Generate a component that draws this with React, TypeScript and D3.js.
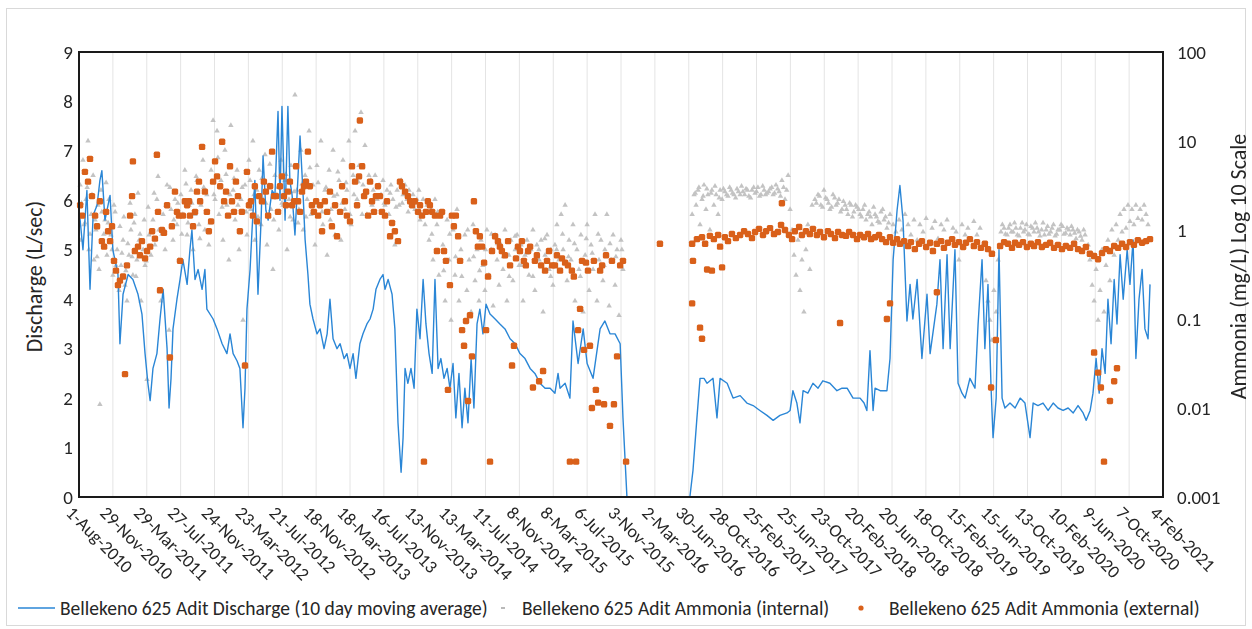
import * as d3 from 'd3';

// x tick labels (every 120 days)
const tickLabels = [
  '1-Aug-2010', '29-Nov-2010', '29-Mar-2011', '27-Jul-2011', '24-Nov-2011', '23-Mar-2012',
  '21-Jul-2012', '18-Nov-2012', '18-Mar-2013', '16-Jul-2013', '13-Nov-2013', '13-Mar-2014',
  '11-Jul-2014', '8-Nov-2014', '8-Mar-2015', '6-Jul-2015', '3-Nov-2015', '2-Mar-2016',
  '30-Jun-2016', '28-Oct-2016', '25-Feb-2017', '25-Jun-2017', '23-Oct-2017', '20-Feb-2018',
  '20-Jun-2018', '18-Oct-2018', '15-Feb-2019', '15-Jun-2019', '13-Oct-2019', '10-Feb-2020',
  '9-Jun-2020', '7-Oct-2020', '4-Feb-2021',
];
const leftTicks = [0, 1, 2, 3, 4, 5, 6, 7, 8, 9];
const rightTicks = [0.001, 0.01, 0.1, 1, 10, 100];

// [days since 1-Aug-2010, L/sec]
const discharge: [number, number][] = [
  [0, 5.8], [4, 5.6], [14, 5.0], [28, 6.2], [39, 4.2], [50, 5.7], [64, 5.9], [74, 6.4], [81, 6.6], [92, 5.6],
  [110, 6.1], [120, 5.0], [138, 4.5], [145, 3.1], [156, 4.1], [174, 4.5], [191, 4.4], [209, 4.1], [223, 3.7],
  [234, 2.9], [244, 2.3], [252, 1.95], [262, 2.6], [276, 2.9], [287, 3.6], [298, 4.2], [312, 3.0], [319, 1.8],
  [326, 2.4], [333, 3.4], [347, 4.0], [358, 4.4], [368, 4.8], [383, 4.3], [393, 5.0], [400, 5.4], [411, 4.4],
  [422, 4.6], [436, 4.2], [446, 4.6], [453, 3.8], [475, 3.6], [489, 3.4], [507, 3.1], [524, 2.9], [535, 3.3],
  [546, 2.9], [560, 2.75], [570, 2.6], [581, 1.4], [588, 2.2], [595, 3.8], [606, 4.6], [613, 5.4], [623, 6.4],
  [634, 4.1], [645, 5.6], [652, 6.9], [662, 5.8], [670, 5.6], [684, 6.2], [694, 6.1], [705, 7.8], [712, 6.0],
  [719, 7.9], [730, 5.6], [740, 7.9], [747, 6.4], [755, 6.1], [765, 5.3], [776, 6.5], [783, 7.3], [794, 6.1],
  [801, 5.2], [811, 4.5], [818, 3.9], [829, 3.6], [843, 3.3], [854, 3.4], [868, 3.0], [879, 3.3], [889, 4.0],
  [900, 3.2], [914, 3.0], [925, 3.1], [939, 2.8], [949, 2.9], [960, 2.6], [971, 2.9], [981, 2.4], [995, 3.1],
  [1006, 3.3], [1020, 3.5], [1031, 3.6], [1042, 3.8], [1052, 4.2], [1066, 4.4], [1077, 4.5], [1084, 4.2],
  [1095, 4.4], [1109, 4.1], [1119, 3.4], [1130, 1.5], [1141, 0.5], [1148, 1.2], [1155, 2.6], [1165, 2.3],
  [1176, 2.6], [1187, 2.2], [1197, 3.8], [1208, 3.2], [1219, 4.4], [1229, 3.5], [1240, 2.9], [1251, 2.5],
  [1261, 4.4], [1272, 2.6], [1282, 2.8], [1293, 2.4], [1304, 2.6], [1314, 2.2], [1325, 2.7], [1335, 1.6],
  [1346, 2.5], [1357, 1.4], [1367, 2.2], [1378, 1.5], [1389, 2.8], [1399, 1.8], [1410, 3.5], [1420, 3.8],
  [1431, 3.3], [1442, 3.9], [1456, 3.7], [1474, 3.6], [1491, 3.5], [1509, 3.4], [1527, 3.2], [1545, 3.1],
  [1562, 2.9], [1580, 2.8], [1598, 2.6], [1615, 2.5], [1633, 2.3], [1651, 2.2], [1669, 2.2], [1686, 2.1],
  [1697, 2.5], [1704, 2.2], [1722, 2.3], [1739, 2.0], [1750, 3.56], [1768, 2.7], [1786, 3.4], [1800, 2.7],
  [1821, 2.4], [1846, 3.4], [1863, 3.56], [1881, 3.3], [1899, 3.3], [1917, 3.1], [1927, 1.6], [1941, 0],
  [2164, 0], [2175, 0.54], [2189, 1.6], [2200, 2.4], [2214, 2.4], [2225, 2.3], [2246, 2.4], [2260, 1.6],
  [2271, 2.4], [2296, 2.3], [2317, 2.0], [2342, 2.05], [2366, 1.9], [2388, 1.85], [2412, 1.75], [2437, 1.65],
  [2459, 1.55], [2483, 1.65], [2508, 1.7], [2519, 1.75], [2529, 2.15], [2543, 1.9], [2554, 1.5], [2565, 2.15],
  [2582, 2.1], [2600, 2.3], [2618, 2.2], [2635, 2.35], [2660, 2.3], [2685, 2.15], [2703, 2.2], [2721, 2.2],
  [2742, 2.0], [2767, 2.0], [2781, 1.9], [2791, 1.75], [2802, 2.96], [2813, 1.75], [2820, 2.2], [2838, 2.15],
  [2862, 2.15], [2873, 2.8], [2884, 4.8], [2898, 5.8], [2908, 6.3], [2919, 5.6], [2933, 3.56], [2944, 4.3],
  [2954, 3.6], [2969, 4.4], [2986, 2.8], [3004, 4.1], [3015, 2.9], [3039, 3.9], [3050, 4.8], [3061, 3.0],
  [3075, 4.9], [3086, 3.0], [3103, 5.0], [3114, 2.3], [3128, 2.1], [3139, 2.0], [3156, 2.4], [3174, 2.2],
  [3185, 3.5], [3199, 4.8], [3209, 3.0], [3220, 4.3], [3231, 2.2], [3238, 1.2], [3249, 2.0], [3259, 5.0],
  [3270, 2.0], [3280, 1.8], [3298, 1.9], [3316, 1.8], [3334, 2.0], [3351, 1.9], [3369, 1.2], [3380, 1.9],
  [3397, 1.85], [3415, 1.9], [3433, 1.75], [3451, 1.9], [3468, 1.8], [3486, 1.75], [3504, 1.8], [3522, 1.7],
  [3539, 1.85], [3557, 1.7], [3568, 1.55], [3582, 1.75], [3592, 2.1], [3603, 2.8], [3614, 2.1], [3624, 3.0],
  [3635, 2.5], [3645, 4.0], [3656, 3.1], [3667, 4.4], [3677, 3.5], [3688, 4.9], [3699, 4.0], [3713, 5.0],
  [3723, 4.3], [3734, 5.2], [3744, 2.8], [3755, 4.0], [3766, 4.6], [3776, 3.4], [3787, 3.2], [3794, 4.3],
];

// [days since 1-Aug-2010, mg/L] internal ammonia
const ammoniaInternal: [number, number][] = [
  [4, 3.2], [7, 0.77], [14, 6.1], [18, 1.15], [25, 2.2], [32, 10], [35, 0.6], [43, 1.5], [50, 4.1], [53, 0.46],
  [60, 1.0], [67, 1.9], [71, 0.36], [74, 0.011], [78, 2.8], [85, 0.68], [92, 1.3], [99, 0.52], [106, 2.2],
  [113, 0.88], [120, 0.31], [128, 1.6], [135, 0.6], [142, 0.21], [149, 0.4], [156, 0.77], [163, 0.24],
  [170, 0.16], [177, 0.52], [184, 1.0], [191, 0.31], [198, 1.5], [205, 0.46], [213, 0.77], [220, 0.16],
  [227, 0.6], [234, 0.4], [241, 0.021], [248, 0.88], [255, 0.52],
  [262, 1.3], [269, 0.68], [276, 2.2], [283, 1.0], [290, 0.16], [298, 1.5], [305, 0.6], [312, 3.2], [319, 0.075],
  [326, 1.7], [333, 0.77], [340, 2.2], [347, 1.15], [354, 0.46], [361, 2.5], [368, 1.5], [375, 4.7], [383, 0.88],
  [390, 1.9], [397, 2.8], [404, 0.6], [411, 1.5], [418, 3.6], [425, 1.15], [432, 1.9], [439, 6.1], [446, 1.0],
  [453, 2.5], [460, 0.68],
  [468, 4.7], [475, 17], [482, 2.2], [489, 13], [496, 1.5], [503, 3.6], [510, 0.77], [517, 7.9], [524, 1.9],
  [531, 0.46], [538, 15], [546, 2.8], [553, 1.3], [560, 4.7], [567, 0.6], [574, 2.2], [581, 0.097], [588, 3.2],
  [595, 0.88], [602, 6.1],
  [609, 1.7], [616, 10], [623, 0.77], [630, 2.8], [638, 4.7], [645, 1.15], [652, 2.2], [659, 7.0], [666, 0.68],
  [673, 3.2], [680, 1.7], [687, 0.36], [694, 4.1], [701, 2.5], [708, 1.0], [716, 6.1], [723, 1.9], [730, 3.6],
  [737, 0.6], [744, 2.2], [751, 5.3], [758, 1.3], [765, 33], [772, 2.8], [779, 1.7],
  [786, 7.9], [794, 1.0], [801, 4.1], [808, 2.2], [815, 13], [822, 1.5], [829, 3.2], [836, 0.68], [843, 5.3],
  [850, 1.9], [857, 10], [864, 1.15], [871, 2.8], [879, 0.52], [886, 4.7], [893, 1.7], [900, 7.9], [907, 0.88],
  [914, 2.5], [921, 3.6], [928, 0.77], [935, 6.1], [942, 1.7], [949, 2.8], [956, 10], [964, 1.15], [971, 4.1],
  [978, 13], [985, 2.2], [992, 5.3], [999, 21], [1006, 3.2], [1013, 8.9], [1020, 1.5], [1027, 4.1],
  [1034, 3.6], [1042, 2.8], [1049, 4.1], [1056, 2.2], [1063, 3.2], [1070, 2.5], [1077, 3.6], [1084, 1.9],
  [1091, 2.8], [1098, 1.5], [1105, 3.2], [1112, 2.2], [1119, 0.68], [1127, 2.8], [1134, 1.9], [1141, 3.6],
  [1148, 2.5], [1155, 3.2], [1162, 2.2], [1169, 2.8], [1176, 1.9], [1183, 2.5], [1190, 1.7], [1197, 2.2],
  [1204, 2.8], [1212, 1.5],
  [1219, 2.2], [1226, 1.15], [1233, 1.9], [1240, 0.77], [1247, 1.7], [1254, 0.46], [1261, 2.2], [1268, 1.15],
  [1275, 0.31], [1282, 1.5], [1289, 0.68], [1297, 0.16], [1304, 1.3], [1311, 0.46], [1318, 0.097], [1325, 1.0],
  [1332, 0.31], [1339, 1.7], [1346, 0.16], [1353, 0.6], [1360, 0.075], [1367, 0.88], [1374, 0.21], [1382, 0.46],
  [1389, 0.12], [1396, 1.15], [1403, 0.27], [1410, 0.6], [1417, 0.16],
  [1424, 0.77], [1431, 0.4], [1438, 0.21], [1445, 1.0], [1452, 0.31], [1460, 0.6], [1467, 0.14], [1474, 0.88],
  [1481, 0.46], [1488, 0.24], [1495, 0.68], [1502, 0.36], [1509, 1.0], [1516, 0.16], [1523, 0.52], [1530, 0.77],
  [1537, 0.27], [1545, 0.6], [1552, 0.88], [1559, 0.4], [1566, 0.68], [1573, 0.16], [1580, 0.52], [1587, 0.77],
  [1594, 0.31], [1601, 0.6], [1608, 1.0], [1615, 0.21], [1622, 0.68], [1630, 0.46], [1637, 0.77], [1644, 0.12],
  [1651, 0.52], [1658, 0.88], [1665, 0.36], [1672, 0.6], [1679, 0.24], [1686, 0.68], [1693, 1.15], [1700, 0.46],
  [1708, 1.5], [1715, 0.6], [1722, 1.9], [1729, 0.27], [1736, 0.77], [1743, 0.46], [1750, 1.15], [1757, 0.16],
  [1764, 0.6], [1771, 0.36], [1778, 0.88], [1786, 0.12], [1793, 0.52], [1800, 1.15], [1807, 0.21], [1814, 0.68],
  [1821, 0.36], [1828, 1.5], [1835, 0.16], [1842, 0.46], [1849, 0.77], [1856, 0.27], [1863, 0.6], [1870, 1.5],
  [1878, 0.14], [1885, 0.46], [1892, 0.88], [1899, 0.24], [1906, 0.6], [1913, 0.11], [1920, 0.77], [1927, 0.36],
  [2172, 1.5], [2179, 2.5], [2186, 1.9], [2193, 2.8], [2200, 1.15], [2207, 2.2], [2214, 3.2], [2221, 1.7],
  [2228, 2.5], [2235, 1.0], [2242, 2.8], [2249, 1.9], [2257, 2.5], [2264, 1.5], [2271, 2.8], [2278, 2.2],
  [2288, 2.7], [2299, 2.4], [2310, 2.8], [2320, 2.5], [2331, 2.9], [2342, 2.5], [2352, 2.7], [2363, 2.9],
  [2373, 2.4], [2384, 2.8], [2395, 2.6], [2405, 3.0], [2416, 2.5], [2427, 2.8], [2437, 2.6], [2448, 2.9],
  [2459, 2.5], [2469, 3.2], [2480, 2.7], [2490, 3.6], [2501, 2.2], [2512, 4.1], [2519, 1.7], [2526, 1.0],
  [2533, 0.52], [2540, 0.31], [2547, 0.77], [2554, 0.21], [2561, 0.46], [2568, 0.12], [2575, 0.6], [2582, 1.15],
  [2589, 0.36], [2597, 1.9],
  [2607, 2.2], [2618, 2.5], [2628, 1.9], [2639, 2.8], [2650, 2.2], [2660, 1.7], [2671, 2.5], [2682, 1.9],
  [2692, 2.2], [2703, 1.7], [2714, 1.9], [2724, 1.5], [2735, 1.9], [2745, 1.6], [2756, 1.8], [2767, 1.5],
  [2777, 1.7], [2788, 1.3], [2799, 1.6], [2809, 1.15], [2820, 1.5], [2830, 1.25], [2841, 1.6], [2852, 1.3],
  [2862, 1.05], [2873, 1.5],
  [2884, 1.15], [2894, 0.95], [2905, 1.3], [2915, 1.0], [2926, 1.5], [2937, 1.15], [2947, 0.88], [2958, 1.3],
  [2969, 0.77], [2979, 1.15], [2990, 0.95], [3001, 1.35], [3011, 0.68], [3022, 1.05], [3032, 1.25], [3043, 0.8],
  [3054, 1.15], [3064, 1.0], [3075, 1.3], [3086, 0.77], [3096, 1.05], [3107, 0.95], [3117, 0.46], [3128, 1.15],
  [3139, 0.88], [3149, 1.05], [3160, 0.77], [3170, 1.25], [3181, 0.88], [3192, 1.05], [3202, 0.68], [3213, 0.27],
  [3220, 0.16], [3227, 0.097], [3234, 0.058], [3241, 0.21], [3249, 0.12], [3256, 0.46],
  [3266, 0.95], [3277, 1.05], [3288, 0.88], [3298, 1.15], [3309, 0.95], [3319, 1.05], [3330, 0.86], [3341, 1.2],
  [3351, 1.0], [3362, 0.9], [3372, 1.1], [3383, 0.95], [3394, 1.05], [3404, 0.86], [3415, 1.2], [3426, 1.0],
  [3436, 0.9], [3447, 1.05], [3458, 0.86], [3468, 1.0], [3479, 1.15], [3489, 0.9], [3500, 1.05], [3511, 0.88],
  [3521, 1.0], [3532, 0.8], [3543, 0.95], [3553, 0.77], [3564, 0.88], [3575, 0.68],
  [3581, 0.46], [3589, 0.24], [3596, 0.16], [3603, 0.36], [3610, 0.097], [3617, 0.21], [3624, 0.6], [3631, 0.12],
  [3638, 0.4], [3645, 0.77], [3652, 0.27], [3659, 1.0], [3667, 0.52], [3674, 1.15], [3681, 0.77], [3688, 1.5],
  [3695, 0.95], [3702, 1.7], [3709, 1.05], [3716, 1.9], [3723, 1.25], [3730, 1.7], [3737, 1.15], [3744, 1.9],
  [3751, 1.35], [3759, 1.7], [3766, 1.3], [3773, 1.9], [3780, 1.5], [3787, 1.15],
  // denser readings between the above
  [9, 2.0], [21, 1.2], [29, 3.0], [39, 0.9], [46, 2.5], [57, 1.3], [64, 0.5], [81, 1.6], [88, 0.9], [96, 3.4],
  [103, 1.2], [117, 0.6], [124, 1.9], [131, 0.4], [145, 1.1], [152, 0.55], [159, 1.4], [166, 0.35], [173, 0.7],
  [181, 2.0], [188, 0.5], [195, 1.2], [202, 0.3], [209, 2.6], [216, 0.9], [231, 1.3], [238, 0.45], [245, 1.8],
  [266, 2.6], [280, 4.0], [294, 0.9], [308, 1.9], [322, 3.0], [336, 1.3], [350, 2.0], [364, 0.9], [379, 3.3],
  [386, 1.2], [400, 2.0], [415, 4.0], [428, 0.8], [442, 3.0], [464, 1.2], [478, 2.5], [492, 6.5], [507, 1.8],
  [521, 4.2], [535, 2.5], [549, 3.8], [563, 1.9], [578, 3.0], [592, 1.6], [606, 3.6], [620, 2.5], [634, 1.4],
  [648, 3.8], [662, 2.0], [676, 5.5], [690, 1.3], [704, 3.0], [719, 2.0], [733, 4.2], [748, 1.4], [762, 2.7],
  [776, 1.2], [790, 3.3], [804, 1.4], [818, 5.0], [833, 2.0], [847, 3.4], [861, 1.6], [875, 3.0], [890, 1.3],
  [903, 2.4], [917, 4.5], [932, 2.0], [946, 3.4], [960, 1.5], [974, 2.5], [989, 3.5], [1003, 1.5], [1017, 2.6],
  [1038, 1.9], [1060, 3.0], [1081, 2.0], [1102, 2.6], [1123, 1.8], [1145, 2.0], [1166, 1.6], [1187, 2.0],
  [1208, 1.3], [1229, 1.6], [1250, 0.9], [1271, 1.6], [1292, 0.35], [1313, 0.9], [1334, 0.5], [1356, 0.3],
  [1377, 1.0], [1398, 0.5], [1419, 0.35], [1440, 0.6], [1461, 0.9], [1482, 0.7], [1503, 0.5], [1524, 0.3],
  [1545, 0.85], [1566, 0.4], [1587, 0.55], [1608, 0.3], [1629, 0.6], [1650, 0.8], [1671, 0.3], [1692, 0.6],
  [1713, 0.9], [1734, 0.5], [1755, 0.7], [1776, 0.3], [1797, 0.8], [1818, 0.55], [1839, 0.9], [1860, 0.4],
  [1881, 0.7], [1902, 0.5], [1923, 0.6],
  [2183, 2.6], [2196, 3.0], [2211, 2.4], [2224, 2.9], [2239, 2.6], [2253, 3.1], [2268, 2.3], [2283, 2.9],
  [2294, 2.5], [2305, 3.0], [2315, 2.6], [2326, 2.3], [2336, 2.7], [2347, 3.1], [2358, 2.5], [2368, 2.8],
  [2379, 2.3], [2390, 3.0], [2400, 2.7], [2411, 2.4], [2422, 3.1], [2432, 2.5], [2443, 2.7], [2454, 3.0],
  [2464, 2.6], [2475, 2.9], [2485, 2.4], [2496, 3.0], [2507, 2.8],
  [2612, 2.0], [2623, 2.4], [2634, 1.8], [2645, 2.3], [2655, 2.0], [2666, 1.8], [2677, 2.3], [2687, 2.0],
  [2698, 1.6], [2708, 2.1], [2719, 1.7], [2730, 2.0], [2740, 1.4], [2751, 1.9], [2762, 1.7], [2772, 1.4],
  [2783, 1.9], [2794, 1.5], [2804, 1.4], [2815, 1.8], [2825, 1.4], [2836, 1.2], [2847, 1.7], [2857, 1.4],
  [2868, 1.2],
  [3271, 1.15], [3282, 0.9], [3293, 1.05], [3303, 0.95], [3314, 1.2], [3324, 0.88], [3335, 1.05], [3346, 0.95],
  [3356, 1.15], [3367, 0.88], [3378, 1.05], [3388, 1.2], [3399, 0.95], [3410, 1.0], [3420, 0.88], [3431, 1.1],
  [3442, 0.95], [3452, 1.15], [3463, 0.9], [3474, 1.0], [3484, 1.1], [3495, 0.92], [3506, 1.0], [3516, 1.1],
  [3527, 0.92], [3537, 1.0], [3548, 0.85], [3559, 1.0],
];

// [days since 1-Aug-2010, mg/L] external ammonia
const ammoniaExternal: [number, number][] = [
  [4, 1.9], [11, 1.45], [21, 4.5], [32, 3.5], [39, 6.3], [46, 2.4], [57, 1.45], [64, 1.1], [74, 2.1], [81, 0.75],
  [89, 0.65], [96, 1.6], [103, 0.97], [110, 0.75], [117, 1.1], [124, 0.45], [131, 0.35], [138, 0.24], [145, 0.27],
  [156, 0.3], [163, 0.024], [170, 0.4], [181, 1.45], [188, 2.4], [191, 5.9], [198, 0.58], [209, 0.65], [216, 0.52],
  [223, 0.75], [234, 0.48], [241, 0.58], [252, 0.65], [259, 0.97], [269, 0.8], [276, 7.0], [280, 1.6], [287, 0.21],
  [294, 1.0], [301, 0.93], [312, 1.9], [322, 0.037], [329, 1.1], [340, 2.7], [347, 1.6], [354, 1.45], [358, 0.45],
  [368, 1.45], [375, 2.1], [383, 1.9], [390, 2.1], [393, 1.45], [404, 1.1], [411, 1.6], [418, 2.7], [425, 3.5],
  [429, 2.1], [436, 8.6], [446, 2.7], [453, 1.6], [460, 0.97], [468, 1.25], [475, 3.5], [482, 5.9], [489, 4.0],
  [500, 3.1], [507, 9.8], [514, 2.1], [521, 2.7], [528, 1.45], [535, 5.2], [542, 2.1], [549, 1.6], [556, 3.5],
  [563, 2.4], [570, 0.97], [577, 1.6], [588, 0.03], [595, 4.5], [602, 1.9], [609, 2.1], [616, 1.45], [623, 3.1],
  [630, 1.25], [638, 2.4], [648, 2.1], [655, 3.5], [662, 2.7], [670, 1.45], [677, 3.1], [684, 7.6], [691, 2.4],
  [698, 2.4], [705, 1.6], [712, 3.1], [719, 4.0], [726, 2.4], [733, 1.9], [740, 2.7], [747, 3.5], [755, 1.9],
  [762, 2.1], [769, 5.2], [776, 2.1], [783, 1.6], [790, 2.7], [797, 3.1], [804, 3.5], [811, 7.6], [818, 3.1],
  [825, 1.9], [832, 1.6], [840, 2.1], [847, 1.45], [854, 1.9], [861, 0.97], [871, 2.1], [879, 1.6], [889, 2.7],
  [896, 1.1], [907, 1.9], [914, 0.85], [925, 1.6], [932, 3.1], [942, 2.1], [949, 1.45], [960, 1.25], [967, 5.2],
  [978, 3.5], [985, 1.9], [992, 4.0], [995, 17], [1003, 5.2], [1010, 2.4], [1017, 2.7], [1024, 1.45], [1031, 3.5],
  [1038, 2.1], [1045, 1.6], [1052, 2.4], [1059, 3.1], [1066, 2.4], [1073, 1.6], [1084, 1.45], [1091, 2.1],
  [1102, 0.85], [1109, 1.2], [1119, 0.97], [1130, 0.75], [1137, 3.5], [1144, 3.1], [1155, 2.7], [1165, 2.4],
  [1173, 2.1], [1180, 1.9], [1190, 2.1], [1201, 1.6], [1208, 1.9], [1215, 1.45], [1222, 0.0025], [1229, 1.6],
  [1236, 2.1], [1243, 1.9], [1251, 1.6], [1261, 1.45], [1268, 0.58], [1279, 1.45], [1286, 1.6], [1293, 0.58],
  [1300, 0.45], [1307, 0.016], [1314, 0.24], [1321, 1.45], [1328, 1.1], [1335, 1.45], [1343, 0.85], [1350, 0.45],
  [1357, 0.075], [1364, 0.05], [1371, 0.095], [1378, 0.012], [1385, 0.11], [1392, 0.038], [1399, 2.1],
  [1406, 0.97], [1413, 0.65], [1420, 0.85], [1428, 0.65], [1435, 0.43], [1442, 0.075], [1449, 0.3],
  [1456, 0.0025], [1463, 0.58], [1474, 0.85], [1484, 0.75], [1491, 0.65], [1498, 0.58], [1509, 0.52],
  [1520, 0.75], [1527, 0.4], [1534, 0.03], [1541, 0.05], [1548, 0.48], [1555, 0.65], [1562, 0.58], [1569, 0.75],
  [1576, 0.45], [1583, 0.4], [1591, 0.58], [1598, 0.65], [1608, 0.017], [1615, 0.45], [1622, 0.52], [1630, 0.02],
  [1637, 0.4], [1644, 0.026], [1651, 0.35], [1658, 0.45], [1665, 0.58], [1676, 0.4], [1686, 0.4], [1693, 0.52],
  [1704, 0.35], [1711, 0.48], [1722, 0.43], [1732, 0.4], [1739, 0.0025], [1746, 0.35], [1753, 0.3],
  [1761, 0.0025], [1768, 0.075], [1775, 0.13], [1782, 0.45], [1789, 0.045], [1796, 0.43], [1803, 0.35],
  [1810, 0.05], [1817, 0.01], [1824, 0.45], [1831, 0.016], [1839, 0.0115], [1846, 0.35], [1853, 0.4],
  [1860, 0.011], [1867, 0.52], [1881, 0.0063], [1888, 0.45], [1895, 0.011], [1906, 0.038], [1917, 0.4],
  [1927, 0.45], [1938, 0.0025], [2058, 0.7],
  [2172, 0.7], [2175, 0.45], [2172, 0.15], [2200, 0.08], [2207, 0.06], [2225, 0.36], [2242, 0.35], [2271, 0.65],
  [2278, 0.38],
  [2189, 0.79], [2207, 0.83], [2218, 0.7], [2235, 0.86], [2249, 0.79], [2264, 0.88], [2288, 0.83], [2299, 0.75],
  [2313, 0.9], [2327, 0.81], [2342, 0.88], [2356, 0.97], [2370, 0.9], [2384, 0.81], [2395, 0.95], [2409, 1.03],
  [2423, 0.88], [2434, 0.97], [2448, 1.05], [2462, 0.9], [2476, 0.95], [2487, 1.14], [2501, 1.0], [2515, 0.88],
  [2526, 0.79], [2536, 0.97], [2551, 1.08], [2561, 0.88], [2575, 0.97], [2589, 0.9], [2600, 1.03], [2614, 0.88],
  [2625, 0.95], [2639, 0.83], [2653, 0.97], [2664, 0.9], [2678, 0.81], [2689, 0.95], [2703, 0.88], [2717, 0.86],
  [2728, 0.95], [2742, 0.88], [2756, 0.79], [2767, 0.88], [2781, 0.83], [2795, 0.9], [2806, 0.79], [2820, 0.83],
  [2834, 0.88], [2845, 0.79], [2859, 0.73], [2873, 0.83], [2884, 0.72], [2898, 0.79], [2908, 0.7], [2923, 0.75],
  [2937, 0.66], [2947, 0.73], [2961, 0.61], [2976, 0.7], [2986, 0.75], [3001, 0.645], [3015, 0.72], [3025, 0.58],
  [3039, 0.7], [3054, 0.75], [3064, 0.63], [3078, 0.72], [3093, 0.79], [3103, 0.68], [3117, 0.73], [3132, 0.645],
  [3142, 0.72], [3156, 0.79], [3170, 0.66], [3181, 0.73], [3195, 0.63], [3209, 0.7], [3220, 0.61], [3234, 0.54],
  [3263, 0.66], [3277, 0.73], [3291, 0.7], [3305, 0.63], [3316, 0.72], [3330, 0.68], [3344, 0.73], [3358, 0.645],
  [3372, 0.7], [3383, 0.66], [3397, 0.73], [3411, 0.645], [3426, 0.68], [3440, 0.72], [3454, 0.63], [3468, 0.68],
  [3482, 0.61], [3496, 0.66], [3511, 0.63], [3525, 0.7], [3539, 0.61], [3553, 0.58], [3567, 0.645], [3581, 0.54],
  [3596, 0.51], [3610, 0.47], [3624, 0.55], [3638, 0.61], [3652, 0.58], [3667, 0.66], [3681, 0.63], [3695, 0.7],
  [3709, 0.645], [3723, 0.73], [3737, 0.68], [3751, 0.77], [3766, 0.72], [3780, 0.75], [3794, 0.79],
  [2490, 2.0], [2696, 0.09], [2862, 0.1], [2873, 0.15], [3039, 0.2], [3231, 0.017], [3248, 0.058],
  [3596, 0.042], [3610, 0.025], [3620, 0.017], [3631, 0.0025], [3652, 0.012], [3667, 0.02], [3677, 0.028],
];

const seriesNames = [
  'Bellekeno 625 Adit Discharge (10 day moving average)',
  'Bellekeno 625 Adit Ammonia (internal)',
  'Bellekeno 625 Adit Ammonia (external)',
];

const W = 1252;
const H = 629;
const margin = { left: 79, right: 1163, top: 52, bottom: 497 };
const font = "Carlito, Lato, 'Open Sans', sans-serif";
const textColor = '#262626';
const blue = '#2a86d6';
const orange = '#d9601a';
const grey = '#b9b9b9';

const parseDate = d3.timeParse('%d-%b-%Y');

export default function App() {
  const start = parseDate(tickLabels[0]) as Date;
  const end = parseDate(tickLabels[tickLabels.length - 1]) as Date;
  const toDate = (d: number) => d3.timeDay.offset(start, d);

  const x = d3.scaleTime().domain([start, end]).range([margin.left, margin.right]);
  const yL = d3.scaleLinear().domain([0, 9]).range([margin.bottom, margin.top]);
  const yR = d3.scaleLog().domain([0.001, 100]).range([margin.bottom, margin.top]);

  const line = d3
    .line<[number, number]>()
    .x((d) => x(toDate(d[0])))
    .y((d) => yL(d[1]));

  const tri = d3.symbol().type(d3.symbolTriangle).size(13)() as string;

  const legendY = 608;

  return (
    <svg
      width={W}
      height={H}
      style={{ position: 'absolute', left: 0, top: 0, background: '#fff' }}
      fontFamily={font}
    >
      <rect x={6.5} y={8.5} width={1239} height={617} fill="#fff" stroke="#d9d9d9" />

      {/* vertical grid */}
      <g>
        {tickLabels.map((t) => {
          const px = x(parseDate(t) as Date);
          return <line key={t} x1={px} x2={px} y1={margin.top} y2={margin.bottom} stroke="#e4e4e4" strokeWidth={1} />;
        })}
      </g>

      {/* internal ammonia */}
      <g fill={grey} opacity={0.85}>
        {ammoniaInternal.map((d, i) => (
          <path key={i} d={tri} transform={`translate(${x(toDate(d[0]))},${yR(d[1])})`} />
        ))}
      </g>

      {/* discharge */}
      <path d={line(discharge) || ''} fill="none" stroke={blue} strokeWidth={1.4} strokeLinejoin="round" />

      {/* external ammonia */}
      <g fill={orange}>
        {ammoniaExternal.map((d, i) => (
          <rect
            key={i}
            x={x(toDate(d[0])) - 3.2}
            y={yR(d[1]) - 3.2}
            width={6.4}
            height={6.4}
            rx={1.6}
          />
        ))}
      </g>

      {/* plot frame */}
      <rect
        x={margin.left}
        y={margin.top}
        width={margin.right - margin.left}
        height={margin.bottom - margin.top}
        fill="none"
        stroke="#1a1a1a"
        strokeWidth={2}
      />

      {/* left axis */}
      <g fontSize={19} fill={textColor}>
        {leftTicks.map((t) => (
          <text key={t} x={73} y={yL(t)} textAnchor="end" dominantBaseline="central">
            {t}
          </text>
        ))}
      </g>
      <text
        transform={`translate(34,${(margin.top + margin.bottom) / 2 + 2}) rotate(-90)`}
        textAnchor="middle"
        dominantBaseline="central"
        fontSize={22}
        fill={textColor}
      >
        Discharge (L/sec)
      </text>

      {/* right axis */}
      <g fontSize={19} fill={textColor}>
        {rightTicks.map((t) => (
          <text key={t} x={1177} y={yR(t)} textAnchor="start" dominantBaseline="central">
            {t}
          </text>
        ))}
      </g>
      <text
        transform={`translate(1238,${(margin.top + margin.bottom) / 2 - 8}) rotate(-90)`}
        textAnchor="middle"
        dominantBaseline="central"
        fontSize={22}
        fill={textColor}
      >
        Ammonia (mg/L) Log 10 Scale
      </text>

      {/* x tick labels */}
      <g fontSize={18} fill={textColor}>
        {tickLabels.map((t) => {
          const px = x(parseDate(t) as Date);
          return (
            <text key={t} transform={`translate(${px - 5},${margin.bottom + 8}) rotate(45)`} dy="0.7em">
              {t}
            </text>
          );
        })}
      </g>

      {/* legend */}
      <g fontSize={19.5} fill={textColor}>
        <line x1={18} x2={55} y1={legendY} y2={legendY} stroke={blue} strokeWidth={1.5} />
        <text x={60} y={legendY} dominantBaseline="central">{seriesNames[0]}</text>
        <rect x={501} y={legendY - 1} width={4} height={2} fill={grey} />
        <text x={522} y={legendY} dominantBaseline="central">{seriesNames[1]}</text>
        <circle cx={861} cy={legendY} r={2.6} fill={orange} />
        <text x={889} y={legendY} dominantBaseline="central">{seriesNames[2]}</text>
      </g>
    </svg>
  );
}
